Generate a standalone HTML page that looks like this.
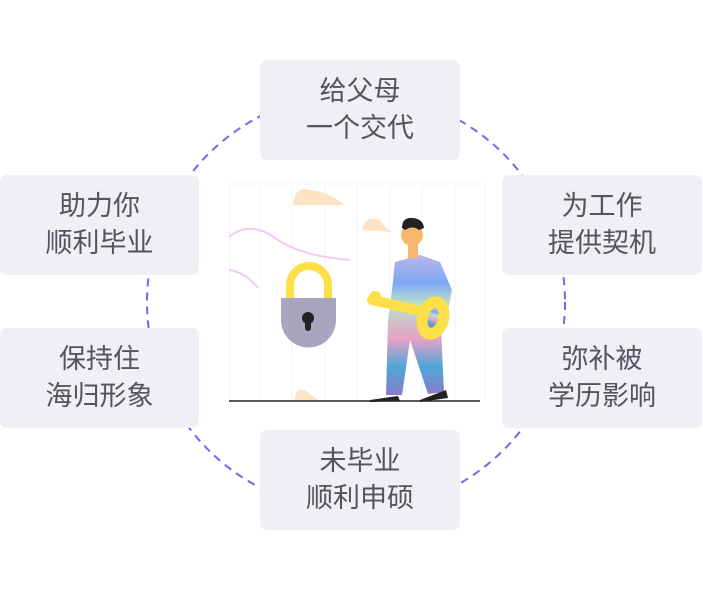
<!DOCTYPE html>
<html><head><meta charset="utf-8"><style>
body{margin:0;width:703px;height:606px;background:#fff;position:relative;overflow:hidden;font-family:"Liberation Sans","Noto Sans CJK SC",sans-serif}
.b{position:absolute;width:200px;height:100px;background:#efeff5;border-radius:7px;display:flex;align-items:center;justify-content:center;text-align:center;font-size:27px;line-height:37px;color:#56535f}
</style></head><body>
<svg width="703" height="606" style="position:absolute;left:0;top:0">
<circle cx="356" cy="302" r="209" fill="none" stroke="#7a63f2" stroke-width="2" stroke-dasharray="8 6"/>
<g>
<rect x="229" y="184" width="257" height="218" fill="#fff"/>
<g stroke="#eef5fb" stroke-width="1">
<line x1="230" y1="184" x2="230" y2="400"/><line x1="260" y1="184" x2="260" y2="400"/><line x1="292" y1="184" x2="292" y2="400"/><line x1="325" y1="184" x2="325" y2="400"/><line x1="357" y1="184" x2="357" y2="400"/><line x1="390" y1="184" x2="390" y2="400"/><line x1="422" y1="184" x2="422" y2="400"/><line x1="455" y1="184" x2="455" y2="400"/><line x1="485" y1="184" x2="485" y2="400"/>
<line x1="229" y1="184" x2="486" y2="184"/>
</g>
<path d="M229 237 Q250 220 275 238 T350 260" fill="none" stroke="#f2c8f5" stroke-width="2"/>
<path d="M229 270 Q245 272 258 288" fill="none" stroke="#f2c8f5" stroke-width="2"/>
<path d="M293 205 Q295 185 310 190 Q325 190 345 205Z" fill="#fde3c2"/>
<path d="M362 230 Q365 215 380 220 Q385 228 392 232Z" fill="#fde3c2"/>
<path d="M295 400 Q295 388 305 390 Q312 396 318 400Z" fill="#fde3c2"/>
<line x1="229" y1="401" x2="480" y2="401" stroke="#222" stroke-width="1.5"/>
<path d="M290 298 V285 A19 19 0 0 1 328 285 V298" fill="none" stroke="#fde047" stroke-width="8"/>
<path d="M281 298 H336 V320 A27 27 0 0 1 281 320Z" fill="#a8a6bf"/>
<circle cx="308" cy="318" r="6" fill="#222"/><rect x="305" y="318" width="6" height="13" rx="3" fill="#222"/>
<defs><linearGradient id="g" x1="0" y1="0" x2="0" y2="1"><stop offset="0" stop-color="#b8b6e8"/><stop offset="0.2" stop-color="#7fa7f5"/><stop offset="0.35" stop-color="#b9e3c9"/><stop offset="0.6" stop-color="#e5a1c6"/><stop offset="0.8" stop-color="#4ea6d8"/><stop offset="1" stop-color="#8a7bc8"/></linearGradient></defs>
<path d="M395 262 L420 255 L440 262 L452 290 L448 310 L440 305 L444 392 L428 394 L410 340 L402 395 L386 395 L388 320 L392 290Z" fill="url(#g)"/>
<circle cx="412" cy="235" r="11" fill="#f8b76c"/><rect x="408" y="240" width="10" height="18" fill="#f8b76c"/>
<path d="M402 228 Q402 217 413 218 Q423 219 424 228 L419 230 Q413 225 405 230Z" fill="#222"/>
<path d="M372 300 L425 312" stroke="#fde047" stroke-width="10" stroke-linecap="round"/>
<circle cx="375" cy="297" r="6" fill="#fde047"/>
<ellipse cx="433" cy="318" rx="16" ry="22" transform="rotate(15 433 318)" fill="#fde047"/>
<ellipse cx="433" cy="318" rx="5" ry="10" transform="rotate(15 433 318)" fill="url(#g)"/>
<path d="M370 400 L398 396 L400 401 L370 402Z" fill="#222"/><path d="M420 400 L446 390 L448 398 L420 402Z" fill="#222"/>
</g>
</svg>
<div class="b" style="left:260px;top:60px">给父母<br>一个交代</div>
<div class="b" style="left:0;top:175px;width:199px">助力你<br>顺利毕业</div>
<div class="b" style="left:0;top:328px;width:199px">保持住<br>海归形象</div>
<div class="b" style="left:502px;top:175px">为工作<br>提供契机</div>
<div class="b" style="left:502px;top:328px">弥补被<br>学历影响</div>
<div class="b" style="left:260px;top:430px">未毕业<br>顺利申硕</div>
</body></html>
